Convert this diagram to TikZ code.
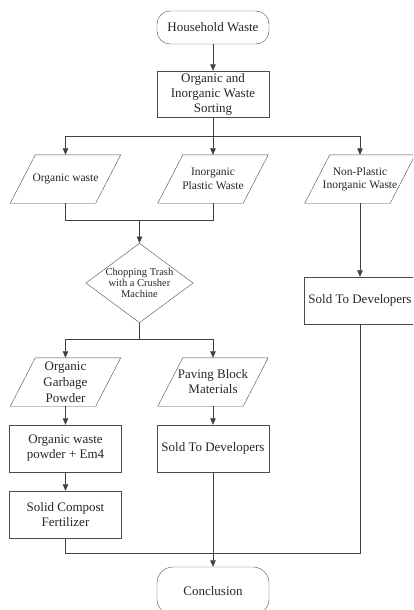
\documentclass[tikz,border=0pt]{standalone}
\usepackage{fontspec}
\setmainfont{Liberation Serif}
\usetikzlibrary{shapes.geometric,arrows.meta}

\begin{document}
\begin{tikzpicture}[x=1pt,y=-1pt,
    every node/.style={text=black!85,align=center},
    box/.style={draw=black!70,rectangle,minimum width=112pt,minimum height=47pt,
    inner sep=0pt,font=\fontsize{13}{15}\selectfont},
    term/.style={box,rounded corners=13pt},
    data/.style={rectangle,minimum width=85pt,minimum height=48pt,inner sep=0pt,
    font=\fontsize{11.5}{13.5}\selectfont,
    append after command={\pgfextra{\draw[draw=black!70]
    ([xshift=-12.5pt]\tikzlastnode.south west) -- ([xshift=12.5pt]\tikzlastnode.north west)
    -- ([xshift=12.5pt]\tikzlastnode.north east) -- ([xshift=-12.5pt]\tikzlastnode.south east)
    -- cycle;}}},
    decide/.style={draw=black!70,diamond,aspect=1.35,minimum width=105pt,
    minimum height=78pt,inner sep=0pt,font=\fontsize{10.5}{11}\selectfont},
    link/.style={draw=black!75,line width=0.6pt},
    arr/.style={link,-{Triangle[length=6.5pt,width=5.5pt]}}]
    \useasboundingbox (0,0) rectangle (413,610);
    \clip (0,0) rectangle (413,610);

    \node[term,minimum height=33pt] (hw) at (213,27.5) {Household Waste};
    \node[box,minimum height=46pt] (sort) at (213,94) {Organic and\\Inorganic Waste\\Sorting};

    \node[data] (orgw) at (65.5,179) {Organic waste};
    \node[data] (plastw) at (213,179) {Inorganic\\Plastic Waste};
    \node[data] (nonpw) at (360,179) {Non-Plastic\\Inorganic Waste};

    \node[decide] (chop) at (139.5,283) {Chopping Trash\\with a Crusher\\Machine};
    \node[box] (soldr) at (360,300.5) {Sold To Developers};

    \node[data,font=\fontsize{13}{16}\selectfont] (powder) at (65.5,382) {Organic\\Garbage\\Powder};
    \node[data,font=\fontsize{13}{15}\selectfont] (paving) at (213,382) {Paving Block\\Materials};

    \node[box] (em) at (65.5,448.5) {Organic waste\\powder + Em4};
    \node[box] (sold) at (213,448.5) {Sold To Developers};
    \node[box] (compost) at (65.5,514.5) {Solid Compost\\Fertilizer};
    \node[term,minimum height=48pt,rounded corners=16pt] (concl) at (213,591) {Conclusion};

    \coordinate (split) at (213,136);
    \coordinate (join) at (139.5,220);
    \coordinate (fork) at (139.5,339);
    \coordinate (gather) at (213,553);

    \draw[arr] (hw) -- (sort);
    \draw[link] (sort) -- (split);
    \draw[arr] (split) -| (orgw);
    \draw[arr] (split) -- (plastw);
    \draw[arr] (split) -| (nonpw);
    \draw[link] (orgw) |- (join);
    \draw[link] (plastw) |- (join);
    \draw[arr] (join) -- (chop);
    \draw[link] (chop) -- (fork);
    \draw[arr] (fork) -| (powder);
    \draw[arr] (fork) -| (paving);
    \draw[arr] (nonpw) -- (soldr);
    \draw[arr] (powder) -- (em);
    \draw[arr] (em) -- (compost);
    \draw[arr] (paving) -- (sold);
    \draw[arr] (sold) -- (concl);
    \draw[link] (compost) |- (gather);
    \draw[link] (soldr) |- (gather);
\end{tikzpicture}
\end{document}
